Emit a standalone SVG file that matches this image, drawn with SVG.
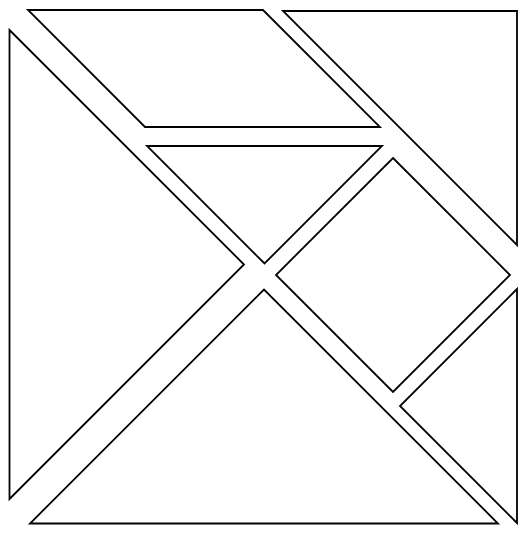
<svg xmlns="http://www.w3.org/2000/svg" width="528" height="533" viewBox="0 0 528 533">
<style>
.p{fill:#fff;stroke:#000;stroke-width:1.8;stroke-linejoin:miter}
</style>
<rect width="528" height="533" fill="#fff"/>
<g id="left-triangle"><polygon class="p" points="9.5,30 244,264.5 9.5,499"/></g>
<g id="parallelogram"><polygon class="p" points="28,10 263,10 380,127 145,127"/></g>
<g id="top-right-triangle"><polygon class="p" points="283,11 517,11 517,245"/></g>
<g id="middle-triangle"><polygon class="p" points="147,146 382,146 264.5,263.5"/></g>
<g id="square"><polygon class="p" points="393,158 510,275 393,392 276,275"/></g>
<g id="small-right-triangle"><polygon class="p" points="517,289 517,523 400,406"/></g>
<g id="bottom-triangle"><polygon class="p" points="30,523.5 498,523.5 264,289.5"/></g>
<g id="connectors"></g>
</svg>
